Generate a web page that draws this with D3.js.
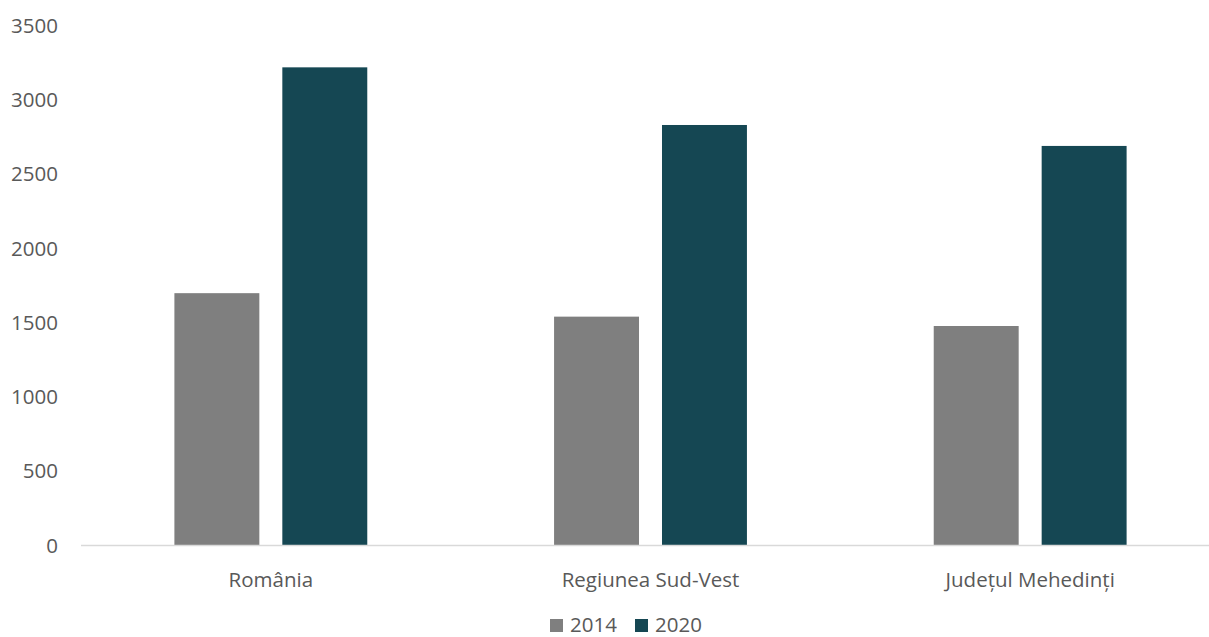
<!DOCTYPE html>
<html><head><meta charset="utf-8">
<script src="https://cdn.jsdelivr.net/npm/d3@7"></script>
<style>
body{margin:0;background:#fff;}
text{font-family:"Open Sans",sans-serif;fill:#595959;}
</style></head>
<body>
<svg id="c" width="1209" height="637"></svg>
<script>
const categories = ["România", "Regiunea Sud-Vest", "Județul Mehedinți"];
const seriesNames = ["2014", "2020"];
const values2014 = [1695, 1537, 1474];
const values2020 = [3215, 2827, 2686];
const yTicks = [0, 500, 1000, 1500, 2000, 2500, 3000, 3500];
const colors = ["#7f7f7f", "#154753"];

const svg = d3.select("#c");
const plotLeft = 81, plotRight = 1220, plotTop = 25, plotBottom = 545;
const fs = 20.5;

const y = d3.scaleLinear().domain([0, 3500]).range([plotBottom, plotTop]);
const x0 = d3.scaleBand().domain(categories).range([plotLeft, plotRight]).paddingInner(0.492).paddingOuter(0.246);
const x1 = d3.scaleBand().domain(seriesNames).range([0, x0.bandwidth()]).paddingInner(0.213).paddingOuter(0);

const data = categories.map((c, i) => ({cat: c, vals: [values2014[i], values2020[i]]}));

// y axis labels
const yAxis = d3.axisLeft(y).tickValues(yTicks).tickFormat(d3.format("d")).tickSize(0).tickPadding(0);
const ga = svg.append("g").attr("transform", `translate(58,0)`).call(yAxis);
ga.select(".domain").remove();
ga.selectAll("text").attr("font-size", fs).attr("font-family", "Open Sans").attr("fill", "#595959").attr("dy", "0.35em");

// bars
const g = svg.append("g");
data.forEach(d => {
  seriesNames.forEach((s, j) => {
    g.append("rect")
      .attr("x", x0(d.cat) + x1(s))
      .attr("y", y(d.vals[j]))
      .attr("width", x1.bandwidth())
      .attr("height", y(0) - y(d.vals[j]))
      .attr("fill", colors[j]);
  });
});

// x axis line
svg.append("line").attr("x1", plotLeft).attr("x2", 1209).attr("y1", plotBottom + 0.5).attr("y2", plotBottom + 0.5)
  .attr("stroke", "#d9d9d9").attr("stroke-width", 1.3);

// category labels
const xAxis = d3.axisBottom(x0).tickSize(0).tickPadding(0);
const gx = svg.append("g").attr("transform", `translate(0,${plotBottom})`).call(xAxis);
gx.select(".domain").remove();
gx.selectAll("text").attr("font-size", fs).attr("font-family", "Open Sans").attr("fill", "#595959").attr("dy", "0").attr("y", 42);

// legend
const legend = svg.append("g");
const legX = [550, 635];
seriesNames.forEach((s, j) => {
  legend.append("rect").attr("x", legX[j]).attr("y", 619).attr("width", 13).attr("height", 13).attr("fill", colors[j]);
  legend.append("text").attr("x", legX[j] + 20).attr("y", 631.5).attr("font-size", fs).text(s);
});
</script>
</body></html>
